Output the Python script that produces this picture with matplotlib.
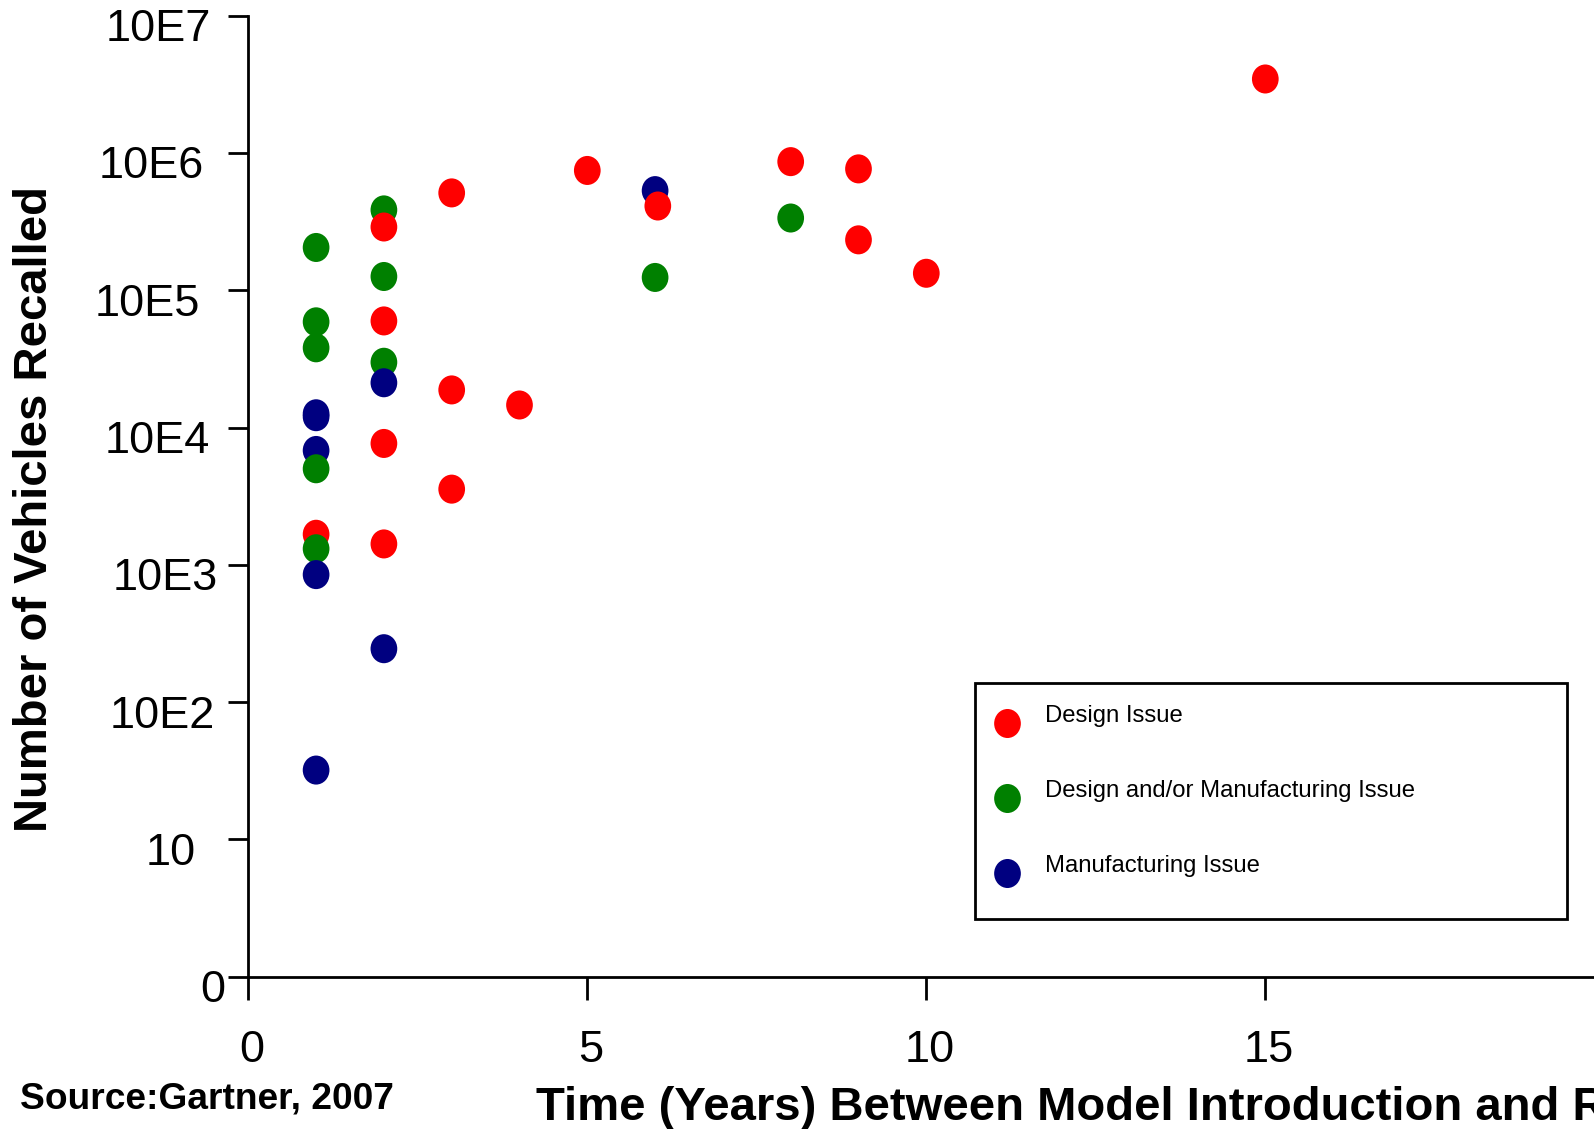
import matplotlib

matplotlib.use("Agg")

import matplotlib.pyplot as plt
import numpy as np
from matplotlib.lines import Line2D
from matplotlib.path import Path
from matplotlib.transforms import Affine2D, ScaledTranslation


# Years between model introduction and recall, vehicles recalled
design_years = [2, 3, 5, 6.04, 2, 3, 4, 2, 3, 1, 2, 8, 9, 9, 10, 15]
design_counts = [289000, 512000, 746000, 411000, 59800, 18800, 14600, 7660,
                 3560, 1670, 1420, 865000, 766000, 233000, 133000, 3460000]

both_years = [1, 2, 2, 6, 1, 1, 2, 1, 1, 8]
both_counts = [205000, 385000, 126000, 124000, 58900, 38100, 29900, 5010,
               1310, 336000]

manuf_years = [6, 2, 1, 1, 1, 1, 2, 1]
manuf_counts = [532000, 21200, 12600, 12000, 6810, 849, 245, 32]

series_labels = ["Design Issue", "Design and/or Manufacturing Issue",
                 "Manufacturing Issue"]
series_colors = ["#ff0000", "#008000", "#000080"]

y_tick_values = [1, 10, 1e2, 1e3, 1e4, 1e5, 1e6, 1e7]
y_tick_labels = ["0", "10", "10E2", "10E3", "10E4", "10E5", "10E6", "10E7"]
x_tick_values = [0, 5, 10, 15]

plt.rcParams["font.family"] = ["Liberation Sans", "DejaVu Sans"]

DPI = 100
fig = plt.figure(figsize=(15.94, 11.29), dpi=DPI)
ax = fig.add_axes([0.15577, 0.13490, 0.85069, 0.85119])

ellipse = Path.unit_circle().transformed(Affine2D().scale(0.92, 1.0))
marker_size = 20.9

# lower points sit on top of higher ones in the original drawing
years = np.concatenate([design_years, both_years, manuf_years])
counts = np.concatenate([design_counts, both_counts, manuf_counts])
colors = np.array(
    [series_colors[0]] * len(design_years)
    + [series_colors[1]] * len(both_years)
    + [series_colors[2]] * len(manuf_years)
)
order = np.argsort(-counts, kind="stable")

ax.scatter(
    years[order],
    counts[order],
    c=colors[order],
    marker=ellipse,
    s=marker_size**2,
    linewidths=0,
    zorder=3,
)

ax.set_yscale("log")
ax.set_ylim(1, 1e7)
ax.set_xlim(0, 20)

for side in ("top", "right"):
    ax.spines[side].set_visible(False)
for side in ("left", "bottom"):
    ax.spines[side].set_linewidth(2.0)

ax.set_yticks(y_tick_values)
ax.set_yticklabels(y_tick_labels)
ax.yaxis.set_minor_locator(matplotlib.ticker.NullLocator())
ax.set_xticks(x_tick_values)
ax.set_xticklabels([str(v) for v in x_tick_values])

ax.tick_params(axis="y", length=14.4, width=2.0, pad=1.9, labelsize=32.5)
ax.tick_params(axis="x", length=16.6, width=2.0, pad=21.8, labelsize=32.5)

# hand placed tick labels in the original
y_label_shift_px = [0, -29.5, -11.2, -8.1, -15.3, -25.4, -21.4, -14.5]
for label, dx in zip(ax.get_yticklabels(), y_label_shift_px):
    label.set_transform(
        label.get_transform()
        + ScaledTranslation(dx / DPI, -9.5 / DPI, fig.dpi_scale_trans)
    )
for label in ax.get_xticklabels():
    label.set_transform(
        label.get_transform()
        + ScaledTranslation(3.5 / DPI, 0, fig.dpi_scale_trans)
    )

ax.set_ylabel("Number of Vehicles Recalled", fontsize=34, fontweight="bold")
ax.yaxis.set_label_coords(-0.1571, 0.4862)
ax.yaxis.label.set_verticalalignment("center")

ax.set_xlabel(
    "Time (Years) Between Model Introduction and Recall",
    fontsize=34,
    fontweight="bold",
)
ax.xaxis.set_label_coords(0.2125, -0.1494)
ax.xaxis.label.set_horizontalalignment("left")
ax.xaxis.label.set_verticalalignment("baseline")

fig.text(
    20 / 1594,
    1 - 1108 / 1129,
    "Source:Gartner, 2007",
    fontsize=26.7,
    fontweight="bold",
    ha="left",
    va="baseline",
)

handles = [
    Line2D([], [], marker=ellipse, color=color, linestyle="none",
           markersize=marker_size, markeredgewidth=0)
    for color in series_colors
]
legend = ax.legend(
    handles,
    series_labels,
    loc="upper left",
    bbox_to_anchor=(975 / 1594, 1 - 916 / 1129, 592 / 1594, 233 / 1129),
    bbox_transform=fig.transFigure,
    mode="expand",
    borderaxespad=0,
    borderpad=1.33,
    labelspacing=2.22,
    handlelength=0.02,
    handletextpad=1.6,
    fontsize=17.2,
    fancybox=False,
    framealpha=1,
    edgecolor="black",
)
legend.get_frame().set_linewidth(2.0)
for text in legend.get_texts():
    text.set_transform(
        text.get_transform()
        + ScaledTranslation(0, 10 / DPI, fig.dpi_scale_trans)
    )

fig.savefig("out.png", dpi=DPI)
